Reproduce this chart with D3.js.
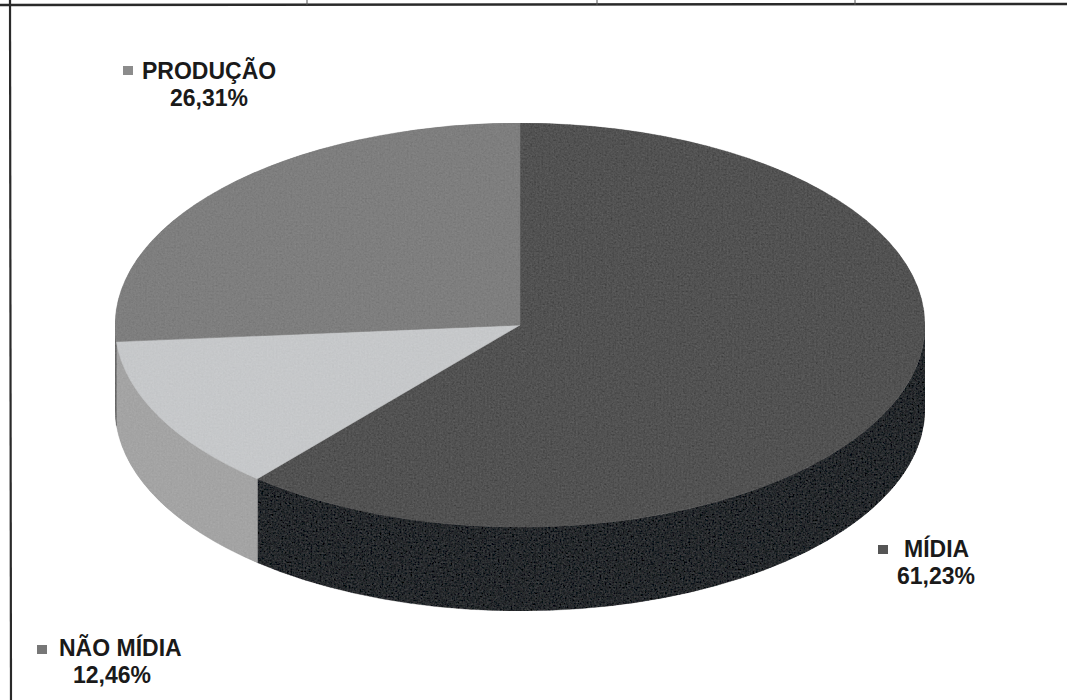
<!DOCTYPE html>
<html>
<head>
<meta charset="utf-8">
<script src="https://cdn.jsdelivr.net/npm/d3@7"></script>
<style>
  html, body { margin: 0; padding: 0; background: #fff; }
  svg { display: block; }
  text { font-family: "Liberation Sans", Arial, sans-serif; font-weight: bold; fill: #1a1a1a; }
</style>
</head>
<body>
<svg id="chart" width="1067" height="700"></svg>
<script>
// Budget split (percent)
const categories = ["MÍDIA", "NÃO MÍDIA", "PRODUÇÃO"];
const values = [61.23, 12.46, 26.31];
const valueLabels = ["61,23%", "12,46%", "26,31%"];
const topColors = ["#525252", "#c6c8ca", "#7e7e7e"];
const sideColors = ["#26292c", "#a4a4a4", "#6a6a6a"];
const keyColors = ["#555555", "#777777", "#8c8c8c"];

const W = 1067, H = 700;
const svg = d3.select("#chart");

// grain filter for the printed look
const defs = svg.append("defs");
const f = defs.append("filter").attr("id", "grain")
  .attr("x", 0).attr("y", 0).attr("width", 1).attr("height", 1);
f.append("feTurbulence").attr("type", "fractalNoise")
  .attr("baseFrequency", 0.55).attr("numOctaves", 2).attr("seed", 3).attr("result", "noise");
f.append("feColorMatrix").attr("in", "noise").attr("type", "matrix")
  .attr("values", "0.33 0.33 0.33 0 0  0.33 0.33 0.33 0 0  0.33 0.33 0.33 0 0  0 0 0 0 1")
  .attr("result", "gray");
f.append("feComposite").attr("in", "SourceGraphic").attr("in2", "gray")
  .attr("operator", "arithmetic").attr("k1", 0).attr("k2", 1).attr("k3", 0.14).attr("k4", -0.07)
  .attr("result", "mixed");
f.append("feComposite").attr("in", "mixed").attr("in2", "SourceGraphic").attr("operator", "in");

// table frame lines
svg.append("line").attr("x1", 0).attr("x2", W).attr("y1", 5).attr("y2", 4)
  .attr("stroke", "#2a2a2a").attr("stroke-width", 2.5);
svg.append("line").attr("x1", 10).attr("x2", 11).attr("y1", 0).attr("y2", H)
  .attr("stroke", "#2a2a2a").attr("stroke-width", 2.2);
[307, 597, 855].forEach(x => {
  svg.append("line").attr("x1", x).attr("x2", x).attr("y1", 0).attr("y2", 5)
    .attr("stroke", "#555").attr("stroke-width", 1);
});

// 3D pie geometry
const cx = 520, cy = 325, rx = 405, ry = 202, depth = 84;
const pt = (a, dy = 0) => [cx + rx * Math.sin(a), cy - ry * Math.cos(a) + dy];

const pie = d3.pie().sort(null).value(d => d.value).startAngle(0).endAngle(2 * Math.PI);
const data = categories.map((c, i) => ({ name: c, value: values[i], label: valueLabels[i], i }));
const arcs = pie(data);

const color = d3.scaleOrdinal().domain(categories).range(topColors);
const side = d3.scaleOrdinal().domain(categories).range(sideColors);
const key = d3.scaleOrdinal().domain(categories).range(keyColors);

const g = svg.append("g").attr("filter", "url(#grain)");

// outer walls: only the front half (angles PI/2 .. 3PI/2) is visible
function wallPath(a0, a1) {
  const s = Math.max(a0, Math.PI / 2), e = Math.min(a1, 3 * Math.PI / 2);
  if (e <= s) return null;
  const p0 = pt(s), p1 = pt(e), q1 = pt(e, depth), q0 = pt(s, depth);
  const large = (e - s) > Math.PI ? 1 : 0;
  return `M${p0}A${rx},${ry} 0 ${large} 1 ${p1}L${q1}A${rx},${ry} 0 ${large} 0 ${q0}Z`;
}
g.selectAll("path.wall").data(arcs).join("path")
  .attr("class", "wall")
  .attr("d", d => wallPath(d.startAngle, d.endAngle))
  .attr("fill", d => side(d.data.name))
  .attr("stroke", d => side(d.data.name)).attr("stroke-width", 0.6);

// top faces
function topPath(a0, a1) {
  const p0 = pt(a0), p1 = pt(a1);
  const large = (a1 - a0) > Math.PI ? 1 : 0;
  return `M${cx},${cy}L${p0}A${rx},${ry} 0 ${large} 1 ${p1}Z`;
}
g.selectAll("path.top").data(arcs).join("path")
  .attr("class", "top")
  .attr("d", d => topPath(d.startAngle, d.endAngle))
  .attr("fill", d => color(d.data.name))
  .attr("stroke", d => color(d.data.name)).attr("stroke-width", 0.6);

// data labels with legend keys
const labelPos = {
  "MÍDIA": { kx: 878, ky: 545, tx: 904, y1: 557, cx2: 936, y2: 584 },
  "NÃO MÍDIA": { kx: 37, ky: 645, tx: 59, y1: 656, cx2: 112, y2: 683 },
  "PRODUÇÃO": { kx: 123, ky: 66, tx: 142, y1: 79, cx2: 209, y2: 106 }
};
const lab = svg.append("g").selectAll("g").data(arcs).join("g");
lab.append("rect")
  .attr("x", d => labelPos[d.data.name].kx).attr("y", d => labelPos[d.data.name].ky)
  .attr("width", 10).attr("height", 9)
  .attr("fill", d => key(d.data.name));
lab.append("text")
  .attr("x", d => labelPos[d.data.name].tx).attr("y", d => labelPos[d.data.name].y1)
  .attr("font-size", 23)
  .text(d => d.data.name);
lab.append("text")
  .attr("x", d => labelPos[d.data.name].cx2).attr("y", d => labelPos[d.data.name].y2)
  .attr("text-anchor", "middle").attr("font-size", 23)
  .text(d => d.data.label);
</script>
</body>
</html>
